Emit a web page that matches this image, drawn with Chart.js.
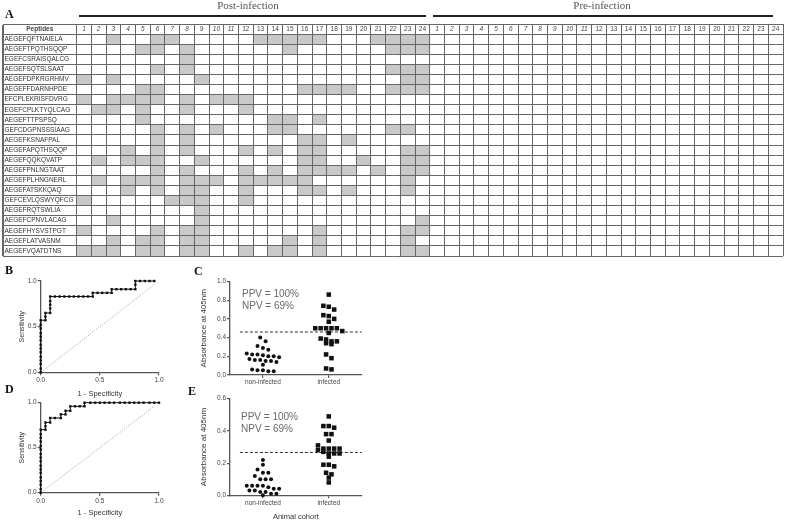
<!DOCTYPE html>
<html><head><meta charset="utf-8">
<script src="https://cdn.jsdelivr.net/npm/chart.js@4.4.1/dist/chart.umd.min.js"></script>
<style>
html,body{margin:0;padding:0;background:#fff;}
#wrap{position:relative;width:787px;height:522px;overflow:hidden;background:#fff;}
canvas{position:absolute;}
.lbl{position:absolute;font-family:"Liberation Serif",serif;font-weight:bold;font-size:12px;line-height:12px;color:#111;}
.ttl{position:absolute;font-family:"Liberation Serif",serif;font-size:11px;line-height:11px;color:#555;text-align:center;width:120px;}
.rule{position:absolute;height:2px;background:#222;}
.pv{position:absolute;font-family:"Liberation Sans",Arial,sans-serif;font-size:10px;line-height:12px;color:#6a6a6a;white-space:nowrap;}
</style></head>
<body><div id="wrap">
<canvas id="cT" width="787" height="262" style="left:0;top:0"></canvas>
<canvas id="cB" width="175" height="128" style="left:0;top:272px"></canvas>
<canvas id="cD" width="175" height="127" style="left:0;top:395px"></canvas>
<canvas id="cC" width="195" height="116" style="left:182px;top:273px"></canvas>
<canvas id="cE" width="195" height="132" style="left:182px;top:390px"></canvas>

<div class="lbl" style="left:5px;top:8px">A</div>
<div class="lbl" style="left:5px;top:264px">B</div>
<div class="lbl" style="left:194px;top:265px">C</div>
<div class="lbl" style="left:5px;top:383px">D</div>
<div class="lbl" style="left:188px;top:385px">E</div>

<div class="ttl" style="left:188px;top:0">Post-infection</div>
<div class="ttl" style="left:542px;top:0">Pre-infection</div>
<div class="rule" style="left:79px;top:15px;width:347px"></div>
<div class="rule" style="left:433px;top:15px;width:340px"></div>

<div class="pv" style="left:242px;top:288px">PPV = 100%</div>
<div class="pv" style="left:242px;top:300px">NPV = 69%</div>
<div class="pv" style="left:241px;top:411px">PPV = 100%</div>
<div class="pv" style="left:241px;top:423px">NPV = 69%</div>
</div>
<script>
// ---------------- DATA ----------------
const peptides = ['AEGEFQFTNAIELA','AEGEFTPQTHSQQP','EGEFCSRAISQALCG','AEGEFSQTSLSAAT','AEGEFDPKRGRHMV',
  'AEGEFFDARNHPDE','EFCPLEKRISFDVRG','EGEFCPLKTYQLCAG','AEGEFTTPSPSQ','GEFCDGPNSSSIAAG','AEGEFKSNAFPAL',
  'AEGEFAPQTHSQQP','AEGEFQQKQVATP','AEGEFPNLNGTAAT','AEGEFPLHNGNERL','AEGEFATSKKQAQ','GEFCEVLQSWYQFCG',
  'AEGEFRQTSWLIA','AEGEFCPNVLACAG','AEGEFHYSVSTPGT','AEGEFLATVASNM','AEGEFVQATDTNS'];
const sampleNumbers = ['1','2','3','4','5','6','7','8','9','10','11','12','13','14','15','16','17','18','19','20','21','22','23','24'];
// reactive samples (shaded cells) per peptide, post-infection
const postReactive = [
  [3,6,7,13,14,15,16,17,21,22,23,24],
  [5,6,8,15,22,23,24],
  [8],
  [6,8,22,23,24],
  [1,3,9,23,24],
  [5,6,16,17,18,19,22,23,24],
  [1,3,4,5,6,8,10,11,12],
  [2,3,5,8,12],
  [5,14,15,17],
  [6,8,10,14,15,22,23],
  [6,8,16,17,19],
  [4,6,8,12,14,16,17,23,24],
  [2,4,5,6,9,16,17,20,23,24],
  [6,8,12,14,16,17,18,19,21,23,24],
  [2,4,5,6,8,9,10,12,13,14,15,16,23],
  [4,6,8,9,12,16,17,19,23],
  [1,7,8,9,12],
  [9],
  [3,9,24],
  [1,6,8,9,17,23,24],
  [3,5,6,8,9,15,17,23],
  [1,2,3,5,6,8,9,12,14,15,17,23,24]
];
// pre-infection: no reactive samples
const preReactive = [[],[],[],[],[],[],[],[],[],[],[],[],[],[],[],[],[],[],[],[],[],[]];

// ROC B
const rocB_fpr = [0,0,0,0,0,0,0,0,0,0,0,0,0,0, 0.04,0.04,0.04, 0.08,0.08,0.08,0.08,0.08,
  0.12,0.16,0.20,0.24,0.28,0.32,0.36,0.40,0.44, 0.44,0.48,0.52,0.56,0.60, 0.60,0.64,0.68,0.72,0.76,0.80,
  0.80,0.80,0.84,0.88,0.92,0.96];
const rocB_tpr = [0,0.04,0.09,0.13,0.17,0.22,0.26,0.30,0.35,0.39,0.43,0.48,0.52,0.57, 0.57,0.61,0.65,
  0.65,0.70,0.74,0.78,0.83, 0.83,0.83,0.83,0.83,0.83,0.83,0.83,0.83,0.83, 0.87,0.87,0.87,0.87,0.87,
  0.91,0.91,0.91,0.91,0.91,0.91, 0.96,1.0,1.0,1.0,1.0,1.0];
// ROC D
const rocD_fpr = [0,0,0,0,0,0,0,0,0,0,0,0,0,0,0,0,0, 0.04,0.04,0.04, 0.08,0.08, 0.12,0.17,0.17,
  0.21,0.21, 0.25,0.25, 0.29,0.33,0.37,0.37, 0.42,0.46,0.50,0.54,0.58,0.62,0.67,0.71,0.75,0.79,0.83,0.87,0.92,0.96,1.0];
const rocD_tpr = [0,0.04,0.09,0.13,0.17,0.22,0.26,0.30,0.35,0.39,0.43,0.48,0.52,0.57,0.61,0.65,0.70,
  0.70,0.74,0.78, 0.78,0.83, 0.83,0.83,0.87, 0.87,0.91, 0.91,0.96, 0.96,0.96,0.96,1.0,
  1,1,1,1,1,1,1,1,1,1,1,1,1,1,1];
const identityLine = [0, 0.96];

// Absorbance panels
const cohorts = ['non-infected', 'infected'];
const nonInfC = [0.40,0.36,0.31,0.29,0.27,0.23,0.22,0.22,0.21,0.20,0.20,0.19,0.17,0.16,0.16,0.15,0.15,0.14,0.11,0.06,0.05,0.05,0.04,0.04];
const infC = [0.86,0.74,0.73,0.70,0.64,0.63,0.60,0.57,0.50,0.50,0.50,0.50,0.50,0.47,0.45,0.39,0.38,0.36,0.36,0.34,0.33,0.22,0.18,0.07,0.06];
const cutoffC = 0.46;
const nonInfE = [0.22,0.19,0.16,0.14,0.14,0.12,0.10,0.10,0.10,0.06,0.06,0.06,0.05,0.06,0.04,0.03,0.02,0.01,0.00,0.01,0.02,0.03,0.04];
const infE = [0.49,0.43,0.42,0.43,0.38,0.38,0.34,0.31,0.29,0.29,0.29,0.28,0.29,0.26,0.26,0.26,0.24,0.27,0.19,0.18,0.19,0.14,0.13,0.11,0.08];
const cutoffE = 0.266;

// ---------------- STYLE ----------------
const FF = '"Liberation Sans", Arial, sans-serif';
const AX = '#555', TXT = '#444', GRID = '#666', SHADE = '#c9c9c9';
Chart.defaults.font.family = FF;
Chart.defaults.color = TXT;
const base = {responsive:false, animation:false, events:[],
  plugins:{legend:{display:false}, tooltip:{enabled:false}}};

// ---------------- TABLE ----------------
const PEP_SLOTS = 5;
const xLabels = ['', '', 'Peptides', '', ''].concat(sampleNumbers, sampleNumbers);
const tableDatasets = peptides.map((p, r) => {
  const data = xLabels.map(() => null);
  postReactive[r].forEach(c => { data[PEP_SLOTS + c - 1] = [r + 0.5, r + 1.5]; });
  preReactive[r].forEach(c => { data[PEP_SLOTS + 24 + c - 1] = [r + 0.5, r + 1.5]; });
  return {label:p, data, backgroundColor:SHADE, borderWidth:0, grouped:false, inflateAmount:0,
          barPercentage:1, categoryPercentage:1, yAxisID:'y'};
});
new Chart(document.getElementById('cT'), {
  type:'bar',
  data:{labels:xLabels, datasets:tableDatasets},
  options:Object.assign({}, base, {
    layout:{padding:{left:3, right:4, top:24, bottom:6}},
    scales:{
      x:{type:'category', position:'top', offset:true,
        grid:{offset:true, drawTicks:false, lineWidth:1, z:1,
          color:ctx => (ctx.index >= 1 && ctx.index < PEP_SLOTS) ? 'rgba(0,0,0,0)' : GRID},
        border:{display:true, color:GRID, width:1, z:1},
        ticks:{autoSkip:false, maxRotation:0, minRotation:0, mirror:true, padding:1.1, color:'#444', z:1,
          font:ctx => {
            const i = ctx.index;
            const n = i >= PEP_SLOTS ? ((i - PEP_SLOTS) % 24) + 1 : 0;
            return {family:FF, size:6.5, style:(n >= 1 && n <= 11) ? 'italic' : 'normal',
                    weight:i === 2 ? 'bold' : 'normal'};
          }},
        afterFit:s => { s.height = 0; }},
      yLab:{type:'category', position:'left', labels:[''].concat(peptides), offset:true,
        grid:{offset:true, drawTicks:false, color:GRID, lineWidth:1, z:1},
        border:{display:true, color:GRID, width:1, z:1},
        ticks:{mirror:true, padding:1.5, autoSkip:false, color:'#333', z:1, font:{family:FF, size:6.5}},
        afterFit:s => { s.width = 0; }},
      y:{type:'linear', display:false, min:-0.5, max:22.5, reverse:true}
    }
  })
});

// ---------------- helpers ----------------
function linAxis(pos, min, max, step, title, size, tsize, tickPad, fmt) {
  return {type:'linear', position:pos, min, max,
    grid:{display:true, drawOnChartArea:false, drawTicks:true, tickLength:3, color:AX, lineWidth:1.2},
    border:{display:true, color:AX, width:1.3},
    ticks:{stepSize:step, padding:tickPad, color:TXT, font:{family:FF, size:6.5}, callback:fmt || (v => v.toFixed(1))},
    title:{display:!!title, text:title, color:'#333', padding:0, font:{family:FF, size:tsize}},
    afterFit:s => { if (pos === 'left') s.width = size; else s.height = size; }};
}
function rocChart(id, fpr, tpr, pad, xH, yW, xTickPad) {
  new Chart(document.getElementById(id), {
    type:'scatter',
    data:{datasets:[
      {data:fpr.map((x, i) => ({x, y:tpr[i]})), showLine:true, borderColor:'#111', borderWidth:1,
       pointStyle:'rect', pointRadius:1.7, pointBackgroundColor:'#111', pointBorderWidth:0, clip:false},
      {data:identityLine.map(v => ({x:v, y:v})), showLine:true, borderColor:'#888', borderWidth:0.8,
       borderDash:[1, 1.5], pointRadius:0, clip:false}
    ]},
    options:Object.assign({}, base, {
      layout:{padding:pad},
      scales:{
        x:linAxis('bottom', 0, 1, 0.5, '1 - Specificity', xH, 7.5, xTickPad),
        y:linAxis('left', 0, 1, 0.5, 'Sensitivity', yW, 7, 1)
      }
    })
  });
}
function swarm(vals, pxPerY, pxPerX) {
  const sorted = vals.map((v, i) => ({v, i})).sort((a, b) => b.v - a.v);
  const off = vals.map(() => 0);
  let k = 0;
  while (k < sorted.length) {
    let j = k;
    while (j < sorted.length && (sorted[k].v - sorted[j].v) * pxPerY < 4.5) j++;
    const n = j - k;
    for (let m = 0; m < n; m++) off[sorted[k + m].i] = (m - (n - 1) / 2) * 5.4 / pxPerX;
    k = j;
  }
  return off;
}
function dotChart(id, nonInf, inf, cut, ymax, pxPerY, pad, xH, xTitle, xTickPad) {
  const pxPerX = 65.85;
  const o0 = swarm(nonInf, pxPerY, pxPerX), o1 = swarm(inf, pxPerY, pxPerX);
  new Chart(document.getElementById(id), {
    type:'scatter',
    data:{datasets:[
      {data:nonInf.map((v, i) => ({x:0 + o0[i], y:v})), pointStyle:'circle', pointRadius:2,
       pointBackgroundColor:'#111', pointBorderWidth:0, clip:false},
      {data:inf.map((v, i) => ({x:1 + o1[i], y:v})), pointStyle:'rect', pointRadius:3.2,
       pointBackgroundColor:'#111', pointBorderWidth:0, clip:false},
      {data:[{x:-0.35, y:cut}, {x:1.5, y:cut}], showLine:true, borderColor:'#333', borderWidth:1,
       borderDash:[3, 2], pointRadius:0, clip:false}
    ]},
    options:Object.assign({}, base, {
      layout:{padding:pad},
      scales:{
        x:Object.assign(linAxis('bottom', -0.5, 1.5, 1, xTitle, xH, 7.5, xTickPad, v => cohorts[v]), {
          afterBuildTicks:ax => { ax.ticks = [{value:0}, {value:1}]; }}),
        y:linAxis('left', 0, ymax, 0.2, 'Absorbance at 405nm', 30.8, 8, 1)
      }
    })
  });
}
rocChart('cB', rocB_fpr, rocB_tpr, {left:17.5, top:9, right:16, bottom:2}, 25.7, 23.2, 0.8);
rocChart('cD', rocD_fpr, rocD_tpr, {left:17.5, top:7.7, right:16, bottom:4.5}, 24.8, 23.2, 2.1);
dotChart('cC', nonInfC, infC, cutoffC, 1.0, 93.5, {left:17.2, top:8.5, right:15.3, bottom:0}, 14, '', 0);
dotChart('cE', nonInfE, infE, cutoffE, 0.6, 161, {left:17.2, top:8.7, right:15.3, bottom:0.2}, 26.5, 'Animal cohort', 0.8);
</script>
</body></html>
